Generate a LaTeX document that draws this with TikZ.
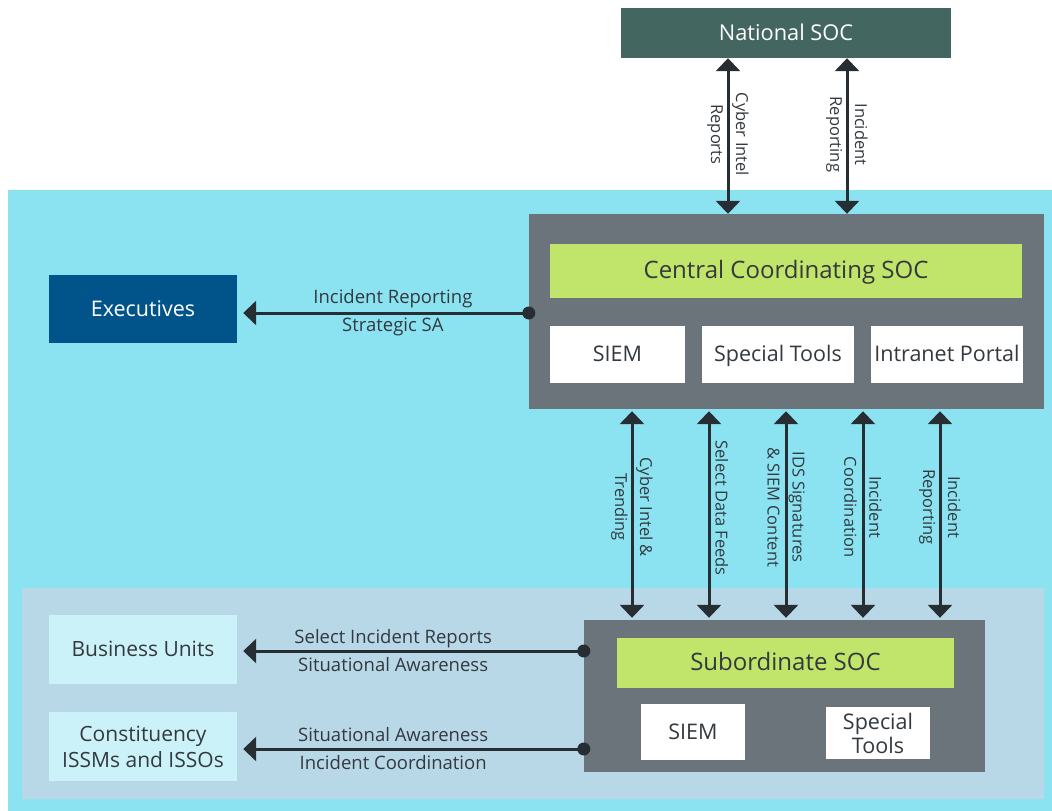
\documentclass[tikz,border=0pt]{standalone}
\usepackage{fontspec}
\setmainfont{Open Sans}
\usetikzlibrary{arrows.meta}

\definecolor{socgreen}{HTML}{436760}
\definecolor{skyarea}{HTML}{8BE3F2}
\definecolor{subarea}{HTML}{B8D8E8}
\definecolor{socgray}{HTML}{6B737B}
\definecolor{limebar}{HTML}{C1E56A}
\definecolor{execblue}{HTML}{00548A}
\definecolor{unitfill}{HTML}{CCF2F9}
\definecolor{ink}{HTML}{262E33}
\definecolor{txt}{HTML}{33393E}

\begin{document}
\begin{tikzpicture}[x=1pt,y=-1pt,
   box/.style={rectangle,inner sep=0pt,align=center,text=txt},
   oneline/.style={text height=18pt,text depth=4pt},
   title/.style={box,oneline,fill=limebar,font=\fontsize{24}{28}\selectfont},
   tool/.style={box,fill=white,font=\fontsize{21.5}{24}\selectfont},
   unit/.style={box,fill=unitfill,font=\fontsize{21}{26}\selectfont},
   both/.style={ink,line width=3pt,{Triangle[width=24pt,length=13pt]}-{Triangle[width=24pt,length=13pt]}},
   feed/.style={ink,line width=3pt,-{Triangle[width=24pt,length=13pt]},shorten >=6pt},
   dot/.style={circle,fill=ink,inner sep=0pt,minimum size=13pt},
   vlabel/.style={rotate=-90,align=center,text=txt,font=\fontsize{16.5}{25}\selectfont},
   hlabel/.style={align=center,text=txt,font=\fontsize{18.5}{28}\selectfont}]
         \useasboundingbox (0,0) rectangle (1052,811) ;
         % areas
         \fill[skyarea] (8,190) rectangle (1052,811) ;
         \fill[subarea] (22,588) rectangle (1044,799) ;

         % national
         \node[box,oneline,fill=socgreen,text=white,minimum width=330,minimum height=50,
            font=\fontsize{21.8}{26}\selectfont] (national) at (786,33) {National SOC} ;

         % central
         \node[box,fill=socgray,minimum width=515,minimum height=195] (central) at (786.5,311.5) {} ;
         \node[title,minimum width=472,minimum height=54] (centraltitle) at (786,271) {Central Coordinating SOC} ;
         \node[tool,oneline,minimum width=135,minimum height=57] (siem) at (617.5,354.5) {SIEM} ;
         \node[tool,oneline,minimum width=152,minimum height=57] (tools) at (778,354.5) {Special Tools} ;
         \node[tool,oneline,minimum width=152,minimum height=57] (portal) at (947,354.5) {Intranet Portal} ;

         \node[box,oneline,fill=execblue,text=white,minimum width=188,minimum height=68,
            font=\fontsize{21.5}{24}\selectfont] (exec) at (143,309) {Executives} ;

         % subordinate
         \node[box,fill=socgray,minimum width=401,minimum height=152] (sub) at (784.5,696) {} ;
         \node[title,minimum width=337,minimum height=50] (subtitle) at (785.5,663) {Subordinate SOC} ;
         \node[tool,oneline,minimum width=104,minimum height=56] (subsiem) at (693,732) {SIEM} ;
         \node[tool,minimum width=104,minimum height=52] (subtools) at (878,733) {Special\\Tools} ;

         \node[unit,oneline,minimum width=188,minimum height=69] (units) at (143,649.5) {Business Units} ;
         \node[unit,minimum width=188,minimum height=69] (issm) at (143,746.5) {Constituency\\ISSMs and ISSOs} ;

         % national <-> central
         \draw[both] (728,0 |- national.south) -- (728,0 |- central.north)
            node[pos=.49,vlabel] {Cyber Intel\\Reports} ;
         \draw[both] (847,0 |- national.south) -- (847,0 |- central.north)
            node[pos=.49,vlabel] {Incident\\Reporting} ;

         % central <-> subordinate
         \foreach \x/\lab in {632/{Cyber Intel \&\\Trending},786/{IDS Signatures\\\& SIEM Content},
            863/{Incident\\Coordination},940/{Incident\\Reporting}}
            \draw[both,shorten <=2pt,shorten >=2pt] (\x,0 |- central.south) -- (\x,0 |- sub.north)
               node[pos=.465,vlabel] {\lab} ;
         \draw[both,shorten <=2pt,shorten >=2pt] (709,0 |- central.south) -- (709,0 |- sub.north)
            node[pos=.47,vlabel,anchor=south,inner sep=5pt] {Select Data Feeds} ;

         % outward reporting
         \draw[feed] (central.west |- 0,313) node[dot] {} -- (exec.east |- 0,313)
            node[pos=.466,hlabel] {Incident Reporting\\Strategic SA} ;
         \draw[feed] (sub.west |- 0,651) node[dot] {} -- (units.east |- 0,651)
            node[pos=.55,hlabel] {Select Incident Reports\\Situational Awareness} ;
         \draw[feed] (sub.west |- 0,749) node[dot] {} -- (issm.east |- 0,749)
            node[pos=.55,hlabel] {Situational Awareness\\Incident Coordination} ;
      \end{tikzpicture}
\end{document}
